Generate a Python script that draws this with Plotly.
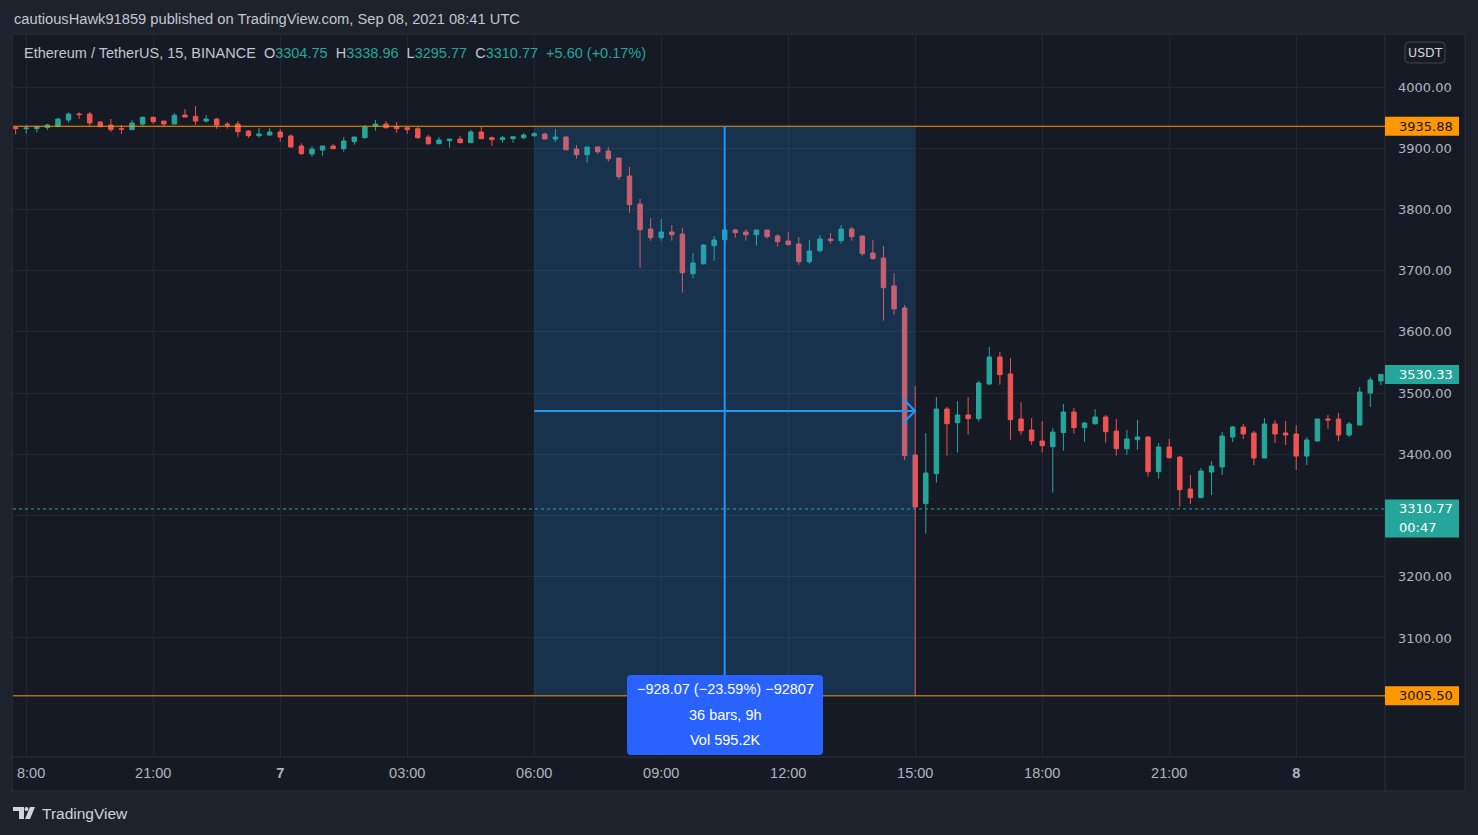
import pandas as pd
import plotly.graph_objects as go

# ---------------- data ----------------
times = pd.date_range("2021-09-06 17:45", periods=130, freq="15min")

open_ = [3934.0, 3932.0, 3932.0, 3934.0, 3935.7, 3946.0, 3955.9, 3955.9, 3942.8, 3937.9,
         3931.9, 3930.3, 3939.5, 3950.4, 3944.4, 3939.5, 3954.2, 3952.0, 3944.4, 3947.7,
         3939.5, 3939.5, 3928.0, 3920.5, 3921.6, 3926.5, 3919.9, 3903.6, 3890.5, 3897.0,
         3903.6, 3899.2, 3910.7, 3917.2, 3936.3, 3939.5, 3935.2, 3933.5, 3931.9, 3918.3,
         3907.4, 3912.3, 3915.0, 3909.0, 3926.5, 3917.2, 3914.0, 3915.6, 3917.2, 3920.5,
         3923.2, 3915.0, 3918.3, 3898.7, 3889.4, 3902.0, 3895.4, 3884.0, 3854.6, 3808.8,
         3768.0, 3753.9, 3763.1, 3759.9, 3695.0, 3711.4, 3740.8, 3750.6, 3766.4, 3763.1,
         3758.8, 3766.4, 3756.6, 3748.4, 3743.5, 3714.7, 3732.7, 3751.7, 3749.0, 3768.0,
         3756.6, 3728.8, 3720.7, 3675.0, 3639.0, 3398.9, 3319.4, 3368.4, 3474.0, 3451.7,
         3464.2, 3458.2, 3514.9, 3559.0, 3531.2, 3457.7, 3439.7, 3421.7, 3412.5, 3435.4,
         3469.1, 3443.5, 3450.0, 3461.0, 3438.0, 3409.2, 3423.9, 3428.3, 3371.6, 3412.0,
         3395.6, 3343.3, 3329.2, 3371.1, 3379.3, 3428.3, 3444.6, 3434.8, 3394.0, 3449.5,
         3434.8, 3433.2, 3397.2, 3421.7, 3457.7, 3457.7, 3431.5, 3447.9, 3500.1, 3519.8]
high_ = [3935.2, 3937.9, 3936.0, 3940.0, 3948.8, 3958.6, 3958.6, 3959.1, 3944.4, 3947.7,
         3937.9, 3946.0, 3952.0, 3952.0, 3944.4, 3957.5, 3964.0, 3969.0, 3954.2, 3949.3,
         3942.8, 3944.4, 3929.7, 3933.0, 3933.0, 3931.4, 3922.6, 3908.0, 3903.6, 3903.6,
         3906.3, 3918.3, 3918.3, 3937.9, 3946.0, 3944.4, 3942.8, 3933.5, 3934.6, 3921.6,
         3918.3, 3915.0, 3919.9, 3929.7, 3934.6, 3918.8, 3919.9, 3919.9, 3924.8, 3926.5,
         3924.8, 3931.4, 3919.9, 3905.3, 3902.0, 3903.6, 3902.0, 3884.0, 3869.3, 3817.0,
         3786.0, 3784.3, 3774.6, 3769.7, 3728.8, 3743.5, 3756.6, 3776.2, 3768.0, 3768.0,
         3766.4, 3766.4, 3759.9, 3763.1, 3755.0, 3750.0, 3758.2, 3761.5, 3774.6, 3771.3,
         3756.6, 3750.0, 3740.3, 3696.2, 3643.9, 3511.6, 3434.8, 3493.6, 3477.3, 3487.1,
         3493.6, 3519.8, 3575.3, 3567.1, 3557.3, 3485.4, 3459.3, 3454.4, 3443.0, 3482.2,
         3475.6, 3452.8, 3474.0, 3464.2, 3457.7, 3439.7, 3456.0, 3430.0, 3418.5, 3425.0,
         3397.2, 3366.2, 3377.6, 3389.0, 3436.4, 3446.2, 3449.5, 3438.1, 3459.3, 3456.0,
         3454.4, 3447.9, 3428.3, 3457.7, 3464.2, 3467.5, 3452.8, 3509.9, 3526.3, 3531.2]
low_ = [3922.6, 3923.7, 3926.0, 3930.0, 3934.0, 3941.7, 3947.7, 3936.3, 3934.6, 3927.0,
        3923.2, 3930.0, 3936.3, 3940.0, 3936.3, 3939.5, 3950.5, 3938.0, 3941.7, 3931.9,
        3931.9, 3918.8, 3917.2, 3917.2, 3920.5, 3910.7, 3900.9, 3888.9, 3886.2, 3887.8,
        3899.2, 3894.3, 3905.8, 3915.6, 3928.6, 3931.9, 3925.4, 3923.7, 3915.6, 3905.8,
        3907.4, 3900.9, 3909.0, 3909.0, 3915.6, 3904.1, 3909.0, 3909.0, 3914.5, 3918.3,
        3915.0, 3910.7, 3897.6, 3882.9, 3876.4, 3891.1, 3878.0, 3848.6, 3794.7, 3704.9,
        3749.0, 3749.0, 3749.0, 3664.0, 3687.0, 3709.8, 3716.3, 3742.5, 3753.9, 3749.0,
        3740.8, 3752.3, 3739.2, 3740.8, 3709.8, 3711.4, 3729.4, 3744.1, 3744.1, 3749.0,
        3724.5, 3718.0, 3618.3, 3628.0, 3390.7, 3005.5, 3270.4, 3353.7, 3397.8, 3402.7,
        3432.1, 3453.3, 3513.2, 3513.8, 3423.9, 3432.1, 3415.7, 3402.7, 3337.3, 3406.0,
        3433.7, 3420.6, 3448.4, 3419.0, 3397.8, 3399.4, 3407.6, 3363.5, 3360.2, 3392.9,
        3314.5, 3318.8, 3329.2, 3333.5, 3366.2, 3420.1, 3425.0, 3382.6, 3394.0, 3418.5,
        3415.2, 3374.4, 3382.6, 3421.7, 3441.3, 3421.7, 3428.3, 3447.9, 3477.3, 3513.2]
close_ = [3932.0, 3933.0, 3935.7, 3937.9, 3947.7, 3955.9, 3955.0, 3941.2, 3935.2, 3930.3,
          3930.8, 3941.2, 3950.4, 3943.3, 3939.5, 3953.7, 3951.0, 3944.4, 3947.7, 3937.9,
          3937.9, 3927.0, 3920.5, 3923.2, 3926.5, 3918.3, 3902.0, 3891.1, 3898.7, 3903.6,
          3899.2, 3911.8, 3918.3, 3934.6, 3939.5, 3933.5, 3931.9, 3930.3, 3917.2, 3907.4,
          3913.4, 3915.0, 3909.0, 3926.5, 3915.6, 3914.0, 3917.2, 3918.8, 3921.6, 3923.7,
          3915.0, 3918.3, 3897.6, 3889.4, 3902.0, 3894.3, 3882.9, 3853.5, 3807.8, 3767.0,
          3753.9, 3763.1, 3758.8, 3696.7, 3712.5, 3741.9, 3750.0, 3766.4, 3762.1, 3758.8,
          3766.4, 3755.5, 3747.3, 3742.5, 3714.7, 3732.1, 3751.7, 3749.0, 3768.0, 3755.5,
          3727.8, 3719.6, 3672.2, 3637.4, 3397.8, 3313.9, 3369.5, 3474.0, 3450.0, 3464.2,
          3458.2, 3516.5, 3559.0, 3530.1, 3456.6, 3438.6, 3422.3, 3414.1, 3436.4, 3469.1,
          3443.5, 3451.1, 3461.0, 3437.0, 3409.2, 3425.0, 3428.3, 3371.6, 3412.0, 3394.5,
          3342.2, 3329.2, 3372.7, 3380.9, 3429.9, 3444.6, 3433.2, 3394.0, 3449.5, 3433.2,
          3431.5, 3397.2, 3423.4, 3457.7, 3456.0, 3431.5, 3449.5, 3501.8, 3521.4, 3530.33]

range_top = 3935.88
range_bottom = 3005.50
last_price = 3310.77
last_visible_close = 3530.33
countdown = "00:47"
box_start = pd.Timestamp("2021-09-07 06:00")
box_end = pd.Timestamp("2021-09-07 15:00")
cross_time = pd.Timestamp("2021-09-07 10:30")
measure_lines = ["\u2212928.07 (\u221223.59%) \u221292807", "36 bars, 9h", "Vol 595.2K"]

price_ticks = [3100, 3200, 3300, 3400, 3500, 3600, 3700, 3800, 3900, 4000]
price_tick_text = ["3100.00", "3200.00", "", "3400.00", "3500.00", "3600.00",
                   "3700.00", "3800.00", "3900.00", "4000.00"]
time_tick_vals = ["2021-09-06 18:00", "2021-09-06 21:00", "2021-09-07 00:00",
                  "2021-09-07 03:00", "2021-09-07 06:00", "2021-09-07 09:00",
                  "2021-09-07 12:00", "2021-09-07 15:00", "2021-09-07 18:00",
                  "2021-09-07 21:00", "2021-09-08 00:00"]
time_tick_text = ["", "21:00", "<b>7</b>", "03:00", "06:00", "09:00", "12:00",
                  "15:00", "18:00", "21:00", "<b>8</b>"]

header_text = "cautiousHawk91859 published on TradingView.com, Sep 08, 2021 08:41 UTC"
symbol_text = "Ethereum / TetherUS, 15, BINANCE"
ohlc_text = [("O", "3304.75"), ("H", "3338.96"), ("L", "3295.77"), ("C", "3310.77")]
change_text = "+5.60 (+0.17%)"

# ---------------- layout geometry ----------------
W, H = 1478, 835
L, R, T, B = 13, 1385, 35, 757
Y_MAX, Y_MIN = 4084.94, 2905.6
BAR = pd.Timedelta(minutes=15)
x_range = [times[0] - 0.25 * BAR, times[0] + 129.39 * BAR]

UP, DOWN = "#26a69a", "#ef5350"
PANEL, PAGE, BORDER = "#161a25", "#1e222d", "#2a2e39"
TXT = "#b2b5be"
FONT = "Liberation Sans, Arial, sans-serif"
NUMFONT = "DejaVu Sans, Verdana, sans-serif"
BLUE_LINE = "#2196f3"


def px(x):
    return (x - L) / (R - L)


def py(y):
    return (B - y) / (B - T)


def price_at(y):
    return Y_MAX - (y - T) / (B - T) * (Y_MAX - Y_MIN)


def rrect(x0, y0, x1, y1, r):
    pts = [("M", x0 + r, y0), ("L", x1 - r, y0), ("Q", x1, y0, x1, y0 + r),
           ("L", x1, y1 - r), ("Q", x1, y1, x1 - r, y1), ("L", x0 + r, y1),
           ("Q", x0, y1, x0, y1 - r), ("L", x0, y0 + r), ("Q", x0, y0, x0 + r, y0)]
    s = ""
    for p in pts:
        cmd = p[0]
        vals = p[1:]
        coords = []
        for i in range(0, len(vals), 2):
            coords.append(f"{px(vals[i]):.5f},{py(vals[i + 1]):.5f}")
        s += cmd + " " + " ".join(coords) + " "
    return s + "Z"


fig = go.Figure()
fig.add_trace(go.Candlestick(
    x=times, open=open_, high=high_, low=low_, close=close_,
    increasing=dict(line=dict(color=UP, width=1), fillcolor=UP),
    decreasing=dict(line=dict(color=DOWN, width=1), fillcolor=DOWN),
    whiskerwidth=0, showlegend=False, hoverinfo="skip",
))

shapes = []
# panel background and separators
shapes.append(dict(type="rect", xref="paper", yref="paper", layer="below",
                   x0=px(12), x1=px(1465), y0=py(791), y1=py(34),
                   fillcolor=PANEL, line=dict(color=BORDER, width=1)))
shapes.append(dict(type="line", xref="paper", yref="paper", layer="above",
                   x0=px(1385), x1=px(1385), y0=py(791), y1=py(34),
                   line=dict(color=BORDER, width=1)))
shapes.append(dict(type="line", xref="paper", yref="paper", layer="above",
                   x0=px(12), x1=px(1465), y0=py(757), y1=py(757),
                   line=dict(color=BORDER, width=1)))
# horizontal lines
for p in (range_top, range_bottom):
    shapes.append(dict(type="line", xref="paper", yref="y", layer="above",
                       x0=0, x1=1, y0=p, y1=p, line=dict(color="#ff9800", width=1)))
shapes.append(dict(type="line", xref="paper", yref="y", layer="above",
                   x0=0, x1=1, y0=last_price, y1=last_price,
                   line=dict(color=UP, width=1, dash="dot")))
# date/price range box
shapes.append(dict(type="rect", xref="x", yref="y", layer="above",
                   x0=box_start, x1=box_end, y0=range_bottom, y1=range_top,
                   fillcolor="rgba(33,150,243,0.2)", line=dict(width=0)))
shapes.append(dict(type="line", xref="x", yref="y", layer="above",
                   x0=cross_time, x1=cross_time, y0=price_at(675), y1=range_top,
                   line=dict(color=BLUE_LINE, width=2)))
mid = (range_top + range_bottom) / 2
shapes.append(dict(type="line", xref="x", yref="y", layer="above",
                   x0=box_start, x1=box_end, y0=mid, y1=mid,
                   line=dict(color=BLUE_LINE, width=2)))
arm_t = 1.15 * BAR
arm_p = 12 / (B - T) * (Y_MAX - Y_MIN)
for s in (1, -1):
    shapes.append(dict(type="line", xref="x", yref="y", layer="above",
                       x0=box_end - arm_t, x1=box_end, y0=mid + s * arm_p, y1=mid,
                       line=dict(color=BLUE_LINE, width=2)))
# measurement label box
shapes.append(dict(type="path", xref="paper", yref="paper", layer="above",
                   path=rrect(627, 675, 823, 755, 4), fillcolor="#2962ff",
                   line=dict(width=0)))
# price label boxes
half = 9.5 / (B - T) * (Y_MAX - Y_MIN)
for p, col in ((range_top, "#ff9800"), (range_bottom, "#ff9800"), (last_visible_close, UP)):
    shapes.append(dict(type="rect", xref="paper", yref="y", layer="above",
                       x0=px(1385), x1=px(1459), y0=p - half, y1=p + half,
                       fillcolor=col, line=dict(width=0)))
shapes.append(dict(type="rect", xref="paper", yref="y", layer="above",
                   x0=px(1385), x1=px(1459), y0=last_price - half * 3.0, y1=last_price + half,
                   fillcolor=UP, line=dict(width=0)))
# USDT button
shapes.append(dict(type="path", xref="paper", yref="paper", layer="above",
                   path=rrect(1405, 42, 1445, 63, 4), fillcolor="rgba(0,0,0,0)",
                   line=dict(color="#434651", width=1)))
# TradingView logo
logo = "#d1d4dc"
shapes.append(dict(type="path", xref="paper", yref="paper", layer="above",
                   path=f"M {px(13)},{py(807)} L {px(24)},{py(807)} L {px(24)},{py(819)} "
                        f"L {px(19)},{py(819)} L {px(19)},{py(811)} L {px(13)},{py(811)} Z",
                   fillcolor=logo, line=dict(width=0)))
shapes.append(dict(type="circle", xref="paper", yref="paper", layer="above",
                   x0=px(24.5), x1=px(28.5), y0=py(811), y1=py(807),
                   fillcolor=logo, line=dict(width=0)))
shapes.append(dict(type="path", xref="paper", yref="paper", layer="above",
                   path=f"M {px(30)},{py(807)} L {px(35)},{py(807)} L {px(30)},{py(819)} "
                        f"L {px(25)},{py(819)} Z",
                   fillcolor=logo, line=dict(width=0)))

ann = []
ann.append(dict(xref="paper", yref="paper", x=px(12), y=py(19), xanchor="left",
                yanchor="middle", showarrow=False, text=header_text,
                font=dict(family=FONT, size=14.7, color="#c3c6ce")))
leg = symbol_text + "&nbsp;&nbsp;"
for k, v in ohlc_text:
    leg += f"{k}<span style='color:{UP}'>{v}</span>&nbsp;&nbsp;"
leg += f"<span style='color:{UP}'>{change_text}</span>"
ann.append(dict(xref="paper", yref="paper", x=px(22), y=py(53), xanchor="left",
                yanchor="middle", showarrow=False, text=leg,
                font=dict(family=FONT, size=14.5, color="#c3c6ce")))
ann.append(dict(xref="paper", yref="paper", x=px(15), y=py(773), xanchor="left",
                yanchor="middle", showarrow=False, text="8:00",
                font=dict(family=FONT, size=14.5, color=TXT)))
for i, t in enumerate(measure_lines):
    ann.append(dict(xref="paper", yref="paper", x=px(725), y=py(689 + 25.5 * i),
                    xanchor="center", yanchor="middle", showarrow=False, text=t,
                    font=dict(family=FONT, size=14.5, color="#ffffff")))
for p, col in ((range_top, "#131722"), (range_bottom, "#131722"), (last_visible_close, "#ffffff")):
    ann.append(dict(xref="paper", yref="y", x=px(1397), y=p, xanchor="left",
                    yanchor="middle", showarrow=False, text=f"{p:.2f}",
                    font=dict(family=NUMFONT, size=13, color=col)))
ann.append(dict(xref="paper", yref="y", x=px(1397), y=last_price, xanchor="left",
                yanchor="middle", showarrow=False, text=f"{last_price:.2f}",
                font=dict(family=NUMFONT, size=13, color="#ffffff")))
ann.append(dict(xref="paper", yref="y", x=px(1397), y=last_price - 2 * half, xanchor="left",
                yanchor="middle", showarrow=False, text=countdown,
                font=dict(family=NUMFONT, size=13, color="#ffffff")))
ann.append(dict(xref="paper", yref="paper", x=px(1425), y=py(52.5), xanchor="center",
                yanchor="middle", showarrow=False, text="USDT",
                font=dict(family=NUMFONT, size=12.5, color="#d1d4dc")))
ann.append(dict(xref="paper", yref="paper", x=px(40), y=py(813), xanchor="left",
                yanchor="middle", showarrow=False, text="TradingView",
                font=dict(family=FONT, size=15.5, color="#d1d4dc")))

fig.update_layout(
    width=W, height=H,
    margin=dict(l=L, r=W - R, t=T, b=H - B, pad=0),
    paper_bgcolor=PAGE, plot_bgcolor="rgba(0,0,0,0)",
    boxgap=0.4,
    shapes=shapes, annotations=ann,
    showlegend=False,
    xaxis=dict(type="date", range=x_range, rangeslider=dict(visible=False),
               tickvals=time_tick_vals, ticktext=time_tick_text, ticks="",
               ticklabelstandoff=5, showgrid=True, gridcolor="#232632", gridwidth=1,
               zeroline=False, showline=False, fixedrange=True,
               tickfont=dict(family=FONT, size=14.5, color=TXT)),
    yaxis=dict(side="right", range=[Y_MIN, Y_MAX], tickvals=price_ticks,
               ticktext=price_tick_text, ticks="", ticklabelstandoff=12,
               showgrid=True, gridcolor="#232632", gridwidth=1, zeroline=False,
               showline=False, fixedrange=True,
               tickfont=dict(family=NUMFONT, size=13, color=TXT)),
)

fig.write_html("out.html", config={"displayModeBar": False},
               post_script="document.body.style.margin='0';document.body.style.overflow='hidden';")
